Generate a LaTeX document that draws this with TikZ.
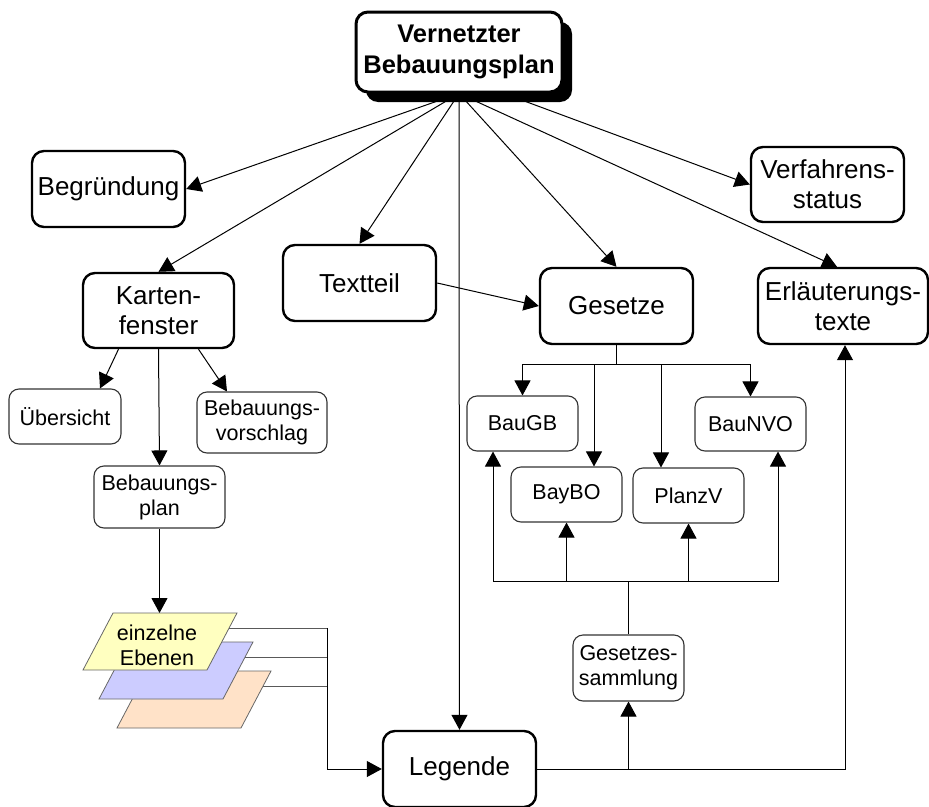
\documentclass[tikz,border=0pt]{standalone}
\usepackage{fontspec}
\setmainfont{Liberation Sans}
\usetikzlibrary{arrows.meta,shadows}
\pgfdeclarelayer{bg}
\pgfsetlayers{bg,main}
\tikzset{
  big/.style={draw, line width=2.4pt, rounded corners=12pt, fill=white, align=center,
    inner sep=0pt, font=\fontsize{26}{30}\selectfont, minimum width=153pt, minimum height=76pt},
  small/.style={draw=black!80, line width=1.1pt, rounded corners=10pt, fill=white, align=center,
    inner sep=0pt, font=\fontsize{21.5}{25}\selectfont},
  conn/.style={line width=1pt},
  arr/.style={conn, -{Triangle[length=15pt,width=16pt]}},
  gconn/.style={draw=black!65, line width=1pt},
  layer/.style={draw=black!60, line width=0.8pt},
}
\definecolor{layyellow}{RGB}{255,255,192}
\definecolor{layblue}{RGB}{204,204,255}
\definecolor{layorange}{RGB}{255,226,200}
\begin{document}
\begin{tikzpicture}[x=1pt,y=-1pt]
\useasboundingbox (0,0) rectangle (929,806);

% main nodes
\node[big, line width=3pt, font=\bfseries\fontsize{25.5}{31}\selectfont, minimum width=206pt, minimum height=80pt,
  drop shadow={shadow xshift=10pt, shadow yshift=-10pt, fill=black, opacity=1}] (top) at (459,52) {Vernetzter\\Bebauungsplan};
\node[big] (beg) at (108.5,189) {Begründung};
\node[big, minimum width=151pt, minimum height=75pt] (kf) at (158.5,310.5) {Karten-\\fenster};
\node[big] (tt) at (359.5,283) {Textteil};
\node[big, minimum height=75pt] (vs) at (827.5,184.5) {Verfahrens-\\status};
\node[big] (ges) at (616.5,306) {Gesetze};
\node[big, minimum width=170pt] (erl) at (843,306) {Erläuterungs-\\texte};
\node[big] (leg) at (459.5,769) {Legende};

% small nodes
\node[small, minimum width=112pt, minimum height=55pt] (ueb) at (65,416.5) {Übersicht};
\node[small, minimum width=130pt, minimum height=61pt] (bv) at (262,422.5) {Bebauungs-\\vorschlag};
\node[small, minimum width=131pt, minimum height=62pt] (bp) at (159.5,497) {Bebauungs-\\plan};
\node[small, minimum width=111pt, minimum height=55pt] (baugb) at (522.5,423.5) {BauGB};
\node[small, minimum width=111pt, minimum height=54pt] (baunvo) at (750.5,424) {BauNVO};
\node[small, minimum width=111pt, minimum height=55pt] (baybo) at (566.5,494.5) {BayBO};
\node[small, minimum width=111pt, minimum height=55pt] (planzv) at (688.5,495.5) {PlanzV};
\node[small, minimum width=111pt, minimum height=66pt] (gs) at (628.5,668) {Gesetzes-\\sammlung};

% layers
\draw[layer, fill=layorange] (147,671) -- (271,671) -- (241,728) -- (117,728) -- cycle;
\draw[layer, fill=layblue] (129,642) -- (253,642) -- (223,699) -- (99,699) -- cycle;
\draw[layer, fill=layyellow] (113,613) -- (237,613) -- (207,670) -- (83,670) -- cycle;
\node[font=\fontsize{21.5}{25}\selectfont, align=center, inner sep=0pt] (ebenen) at (157,645) {einzelne\\Ebenen};
\coordinate (ytop) at (159.5,613);
\coordinate (yR) at (229,628);
\coordinate (bR) at (245,657);
\coordinate (oR) at (263,686);
\coordinate (j1) at (327,628);
\coordinate (j2) at (327,657);
\coordinate (j3) at (327,686);
\coordinate (gj) at (616.5,364);
\coordinate (sj) at (628.5,581);

\begin{pgfonlayer}{bg}
% from top node
\draw[arr] (top.south) -- (beg.east);
\draw[arr] (top.south) -- (kf.north);
\draw[arr] (top.south) -- (tt.north);
\draw[arr] (top.south) -- (leg.north);
\draw[arr] (top.south) -- (ges.north);
\draw[arr] (top.south) -- ([xshift=-6pt]erl.north);
\draw[arr] ([xshift=45pt]top.south) -- (vs.west);
\draw[arr] (tt.east) -- (ges.west);
% Kartenfenster
\draw[arr] ([xshift=-40pt]kf.south) -- ([xshift=35pt]ueb.north);
\draw[arr] ([xshift=40pt]kf.south) -- ([xshift=-35pt]bv.north);
\draw[arr] (kf.south) -- (bp.north);
\draw[arr] (bp.south) -- (ytop);
% layers to Legende
\draw[gconn] (yR) -- (j1);
\draw[gconn] (bR) -- (j2);
\draw[gconn] (oR) -- (j3);
\draw[arr] (j1) |- (leg.west);
% Gesetze tree
\draw[conn] (ges.south) -- (gj);
\draw[arr] (gj) -| (baugb.north);
\draw[arr] (gj) -| (baunvo.north);
\draw[arr] ([xshift=27.5pt]baybo.north |- gj) -- ([xshift=27.5pt]baybo.north);
\draw[arr] ([xshift=-27.5pt]planzv.north |- gj) -- ([xshift=-27.5pt]planzv.north);
% Gesetzessammlung
\draw[conn] (gs.north) -- (sj);
\draw[arr] (sj) -| ([xshift=-29.5pt]baugb.south);
\draw[arr] (sj) -| ([xshift=27.5pt]baunvo.south);
\draw[arr] (baybo.south |- sj) -- (baybo.south);
\draw[arr] (planzv.south |- sj) -- (planzv.south);
% Legende outputs
\draw[arr] (leg.east) -| ([xshift=2pt]erl.south);
\draw[arr] (gs.south |- leg.east) -- (gs.south);
\end{pgfonlayer}
\end{tikzpicture}
\end{document}
